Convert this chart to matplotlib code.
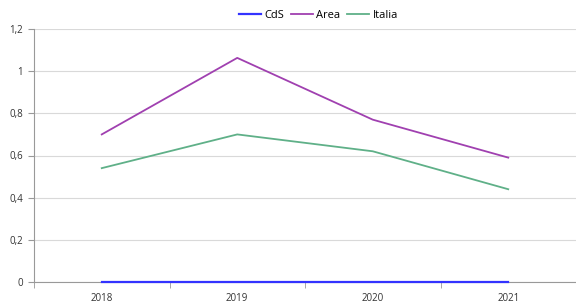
import matplotlib.pyplot as plt
import numpy as np

plt.rcParams['font.family'] = ['Open Sans', 'DejaVu Sans']

anni = ['2018', '2019', '2020', '2021']
cds = [0, 0, 0, 0]
area = [0.70, 1.063, 0.77, 0.59]
italia = [0.54, 0.70, 0.62, 0.44]

fig = plt.figure(figsize=(5.76, 3.04), dpi=100)
ax = fig.add_axes([34/576, 1 - 282/304, 542/576, 253/304])

x = np.arange(len(anni))
ax.plot(x, cds, color='#3333ff', lw=1.6, label='CdS', zorder=5, clip_on=False)
ax.plot(x, area, color='#a040b0', lw=1.3, label='Area', zorder=3)
ax.plot(x, italia, color='#5fb088', lw=1.3, label='Italia', zorder=3)

ax.set_ylim(0, 1.2)
ax.set_xlim(-0.5, 3.485)
yt = np.arange(0, 1.21, 0.2)
ax.set_yticks(yt)
ax.set_yticklabels(['0', '0,2', '0,4', '0,6', '0,8', '1', '1,2'])
ax.set_xticks(x)
ax.set_xticklabels(anni)
ax.set_xticks(np.arange(-0.5, 3.6, 1), minor=True)
ax.tick_params(axis='x', which='major', length=0, pad=8, labelsize=7, colors='#333333')
ax.tick_params(axis='x', which='minor', length=4, color='#999999', direction='out')
ax.tick_params(axis='y', length=4, color='#999999', labelsize=7, colors='#333333', pad=4)
ax.grid(axis='y', color='#d9d9d9', lw=0.8)
ax.set_axisbelow(True)
for s in ['top', 'right']:
    ax.spines[s].set_visible(False)
ax.spines['left'].set_color('#999999')
ax.spines['bottom'].set_color('#999999')
ax.spines['bottom'].set_zorder(1)

ax.legend(loc='lower center', bbox_to_anchor=(0.525, 1.0), ncol=3, frameon=False,
          fontsize=8, handlelength=2.0, handletextpad=0.3, columnspacing=0.6,
          borderpad=0.2)

fig.savefig('out.png', dpi=100)
